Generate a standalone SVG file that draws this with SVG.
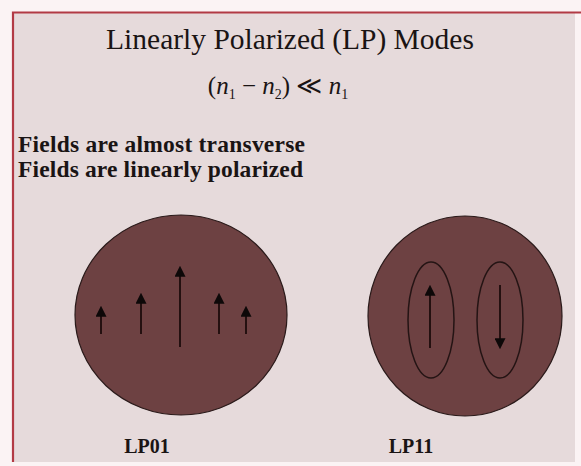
<svg xmlns="http://www.w3.org/2000/svg" width="581" height="466" viewBox="0 0 581 466">
<style>
.serif{font-family:"Liberation Serif","Times New Roman",serif;fill:#1a1414}
.core{fill:#6d4142;stroke:#2a1a1a;stroke-width:1.2}
.lobe{fill:none;stroke:#241414;stroke-width:1.5}
.arr{stroke:#241010;stroke-width:2;fill:none;marker-end:url(#head)}
</style>
<defs>
<marker id="head" viewBox="0 0 10 10" refX="8" refY="5" markerWidth="11" markerHeight="11" markerUnits="userSpaceOnUse" orient="auto">
<path d="M0,0 L10,5 L0,10 Z" fill="#0d0808"/>
</marker>
</defs>
<rect x="0" y="0" width="581" height="466" fill="#fbf3f4"/>
<rect x="12" y="12" width="563" height="450" fill="#e6dadb"/>
<path d="M13,462 V12.5 H581" fill="none" stroke="#b23a45" stroke-width="2.2"/>
<g id="title">
<text class="serif" x="290" y="49" font-size="29.5" text-anchor="middle">Linearly Polarized (LP) Modes</text>
</g>
<g id="formula">
<text class="serif" x="278" y="94" font-size="25" text-anchor="middle"><tspan>(</tspan><tspan font-style="italic">n</tspan><tspan font-size="14" dy="5">1</tspan><tspan dy="-5"> − </tspan><tspan font-style="italic">n</tspan><tspan font-size="14" dy="5">2</tspan><tspan dy="-5">) ≪ </tspan><tspan font-style="italic">n</tspan><tspan font-size="14" dy="5">1</tspan></text>
</g>
<g id="text-lines">
<text class="serif" x="18" y="152" font-size="23.5" font-weight="bold" textLength="287">Fields are almost transverse</text>
<text class="serif" x="18" y="177" font-size="23.5" font-weight="bold" textLength="285">Fields are linearly polarized</text>
</g>
<g id="lp01">
<ellipse class="core" cx="181" cy="315" rx="106" ry="100"/>
<text class="serif" x="147" y="453" font-size="20" font-weight="bold" text-anchor="middle">LP01</text>
</g>
<g id="lp11">
<ellipse class="core" cx="465" cy="316" rx="97" ry="100"/>
<ellipse class="lobe" cx="431" cy="320" rx="23" ry="58"/>
<ellipse class="lobe" cx="500" cy="320" rx="23" ry="58"/>
<text class="serif" x="411" y="453" font-size="20" font-weight="bold" text-anchor="middle">LP11</text>
</g>
<g id="connectors">
<line class="arr" x1="101" y1="334" x2="101" y2="308"/>
<line class="arr" x1="141" y1="334" x2="141" y2="295"/>
<line class="arr" x1="180" y1="347" x2="180" y2="268"/>
<line class="arr" x1="219" y1="334" x2="219" y2="295"/>
<line class="arr" x1="246" y1="334" x2="246" y2="308"/>
<line class="arr" x1="430" y1="348" x2="430" y2="287"/>
<line class="arr" x1="500" y1="285" x2="500" y2="347"/>
</g>
</svg>
